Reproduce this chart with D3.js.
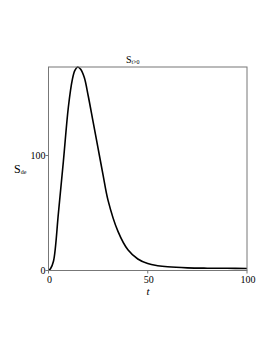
<!DOCTYPE html>
<meta charset="utf-8">
<style>
body { margin: 0; background: #fff; }
text { font-family: "Liberation Serif", "DejaVu Serif", serif; fill: #000; }
.line { fill: none; stroke: #000; stroke-width: 1.6px; }
.frame { fill: none; stroke: #777; stroke-width: 1px; }
</style>
<svg width="273" height="353"></svg>
<script src="https://cdn.jsdelivr.net/npm/d3@7"></script>
<script>

var tValues = [0, 1, 2.5, 5, 7.5, 10, 12, 13.3, 14.7, 16.2, 18, 20, 22.5, 25, 27.5, 30, 35, 40, 45, 50, 55, 60, 70, 80, 90, 100];
var sValues = [0, 1.5, 8, 50, 95, 142, 166, 174, 177, 175, 168, 152, 129, 106, 83, 61, 34, 18, 10, 6, 4.2, 3.2, 2.3, 2, 1.9, 1.8];
var xTicks = [0, 50, 100];
var yTicks = [0, 100];

var svg = d3.select("svg");

var x = d3.scaleLinear().domain([0, 100]).range([48.5, 247]);
var y = d3.scaleLinear().domain([0, 177]).range([270.5, 67]);

var data = tValues.map(function(t, i) { return {t: t, s: sValues[i]}; });

var line = d3.line()
    .x(function(d) { return x(d.t); })
    .y(function(d) { return y(d.s); })
    .curve(d3.curveCatmullRom.alpha(0.5));

svg.append("path")
    .datum(data)
    .attr("class", "line")
    .attr("d", line);

svg.append("rect")
    .attr("class", "frame")
    .attr("x", x(0))
    .attr("y", y(177))
    .attr("width", x(100) - x(0))
    .attr("height", y(0) - y(177));

// y ticks
var yAxis = svg.append("g");
yAxis.selectAll("line").data(yTicks).enter().append("line")
    .attr("x1", x(0) - 3).attr("x2", x(0))
    .attr("y1", function(d) { return y(d); })
    .attr("y2", function(d) { return y(d); })
    .attr("stroke", "#777");
yAxis.selectAll("text").data(yTicks).enter().append("text")
    .attr("x", x(0) - 3)
    .attr("y", function(d) { return y(d) + 3.5; })
    .attr("text-anchor", "end")
    .style("font-size", "10px")
    .text(function(d) { return d; });

// x ticks
var xAxis = svg.append("g");
xAxis.selectAll("line").data(xTicks).enter().append("line")
    .attr("x1", function(d) { return x(d); })
    .attr("x2", function(d) { return x(d); })
    .attr("y1", y(0)).attr("y2", y(0) + 3)
    .attr("stroke", "#777");
xAxis.selectAll("text").data(xTicks).enter().append("text")
    .attr("x", function(d) { return x(d) + 1; })
    .attr("y", 283)
    .attr("text-anchor", "middle")
    .style("font-size", "10px")
    .text(function(d) { return d; });

// axis labels
svg.append("text")
    .attr("x", 148)
    .attr("y", 295)
    .attr("text-anchor", "middle")
    .style("font-size", "11px")
    .style("font-style", "italic")
    .text("t");

var yl = svg.append("text")
    .attr("x", 14)
    .attr("y", 173)
    .style("font-size", "12px");
yl.append("tspan").text("S");
yl.append("tspan").attr("dy", 1).style("font-size", "6px").text("de");

var title = svg.append("text")
    .attr("x", 126)
    .attr("y", 63)
    .style("font-size", "10px");
title.append("tspan").text("S");
title.append("tspan").attr("dy", 1).style("font-size", "6px").text("t>0");

</script>
